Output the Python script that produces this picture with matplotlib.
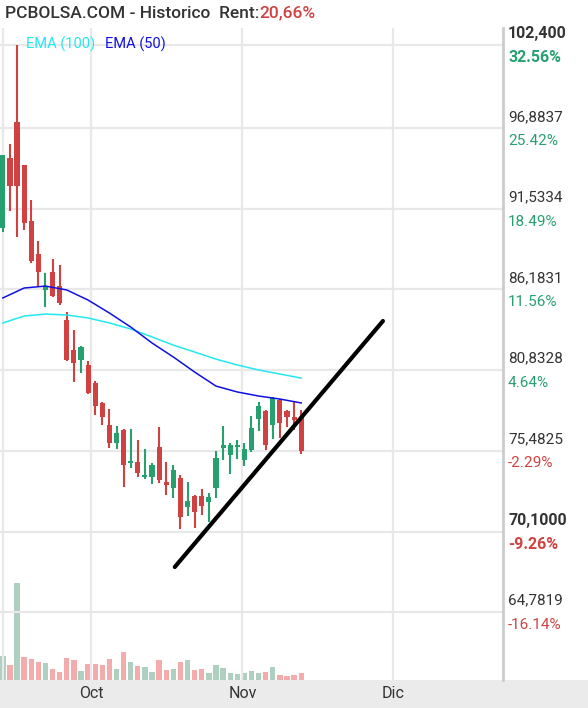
import numpy as np
import matplotlib.pyplot as plt

plt.rcParams['font.family'] = ['Roboto', 'DejaVu Sans']

# datos OHLC (43 sesiones)
apertura = [90.25, 94.90, 97.29, 94.43, 90.72, 88.53, 86.14, 87.33, 86.40, 84.15,
            82.15, 81.49, 81.16, 79.96, 78.64, 77.18, 75.98, 76.84, 74.65, 74.72,
            73.72, 73.72, 75.71, 73.39, 72.99, 73.66, 71.73, 72.46, 72.46, 72.06,
            72.99, 75.65, 75.18, 75.71, 74.85, 75.52, 77.57, 78.10, 77.18, 78.84,
            78.10, 77.71, 77.71]
cierre = [95.10, 93.04, 93.04, 90.58, 88.06, 87.33, 86.40, 85.74, 85.27, 81.49,
          81.29, 82.35, 79.30, 78.44, 77.71, 75.98, 76.64, 74.52, 74.79, 73.99,
          73.79, 74.52, 73.52, 73.19, 74.19, 71.07, 72.13, 71.40, 71.80, 72.40,
          74.99, 75.85, 75.85, 75.78, 75.58, 76.98, 78.44, 75.85, 78.97, 77.31,
          77.71, 77.51, 75.45]
maximo = [95.10, 95.83, 102.40, 94.43, 92.11, 89.39, 87.27, 88.19, 87.80, 84.68,
          83.48, 82.42, 81.42, 80.10, 78.70, 78.24, 77.11, 76.91, 76.91, 76.18,
          75.58, 74.65, 77.04, 74.72, 74.52, 73.86, 73.39, 72.53, 72.93, 72.66,
          75.45, 77.11, 75.98, 76.18, 75.98, 77.77, 78.70, 78.17, 79.04, 78.90,
          78.17, 78.70, 78.17]
minimo = [89.99, 91.38, 89.66, 90.12, 87.93, 86.40, 85.01, 85.67, 85.14, 81.42,
          80.03, 80.63, 79.23, 77.84, 77.18, 75.65, 75.58, 73.06, 74.32, 73.72,
          73.59, 73.26, 73.32, 72.53, 72.33, 70.27, 71.13, 70.34, 71.20, 70.74,
          72.33, 74.85, 73.92, 74.92, 74.45, 75.38, 76.78, 75.52, 76.25, 76.31,
          77.04, 76.84, 75.25]
volumen = [24, 15, 97, 23, 21, 18, 17, 11, 8, 22, 20, 9, 16, 16, 15, 21, 11, 28,
           18, 14, 13, 8, 20, 10, 11, 18, 20, 10, 11, 7, 15, 12, 7, 6, 7, 9, 7, 8,
           13, 5, 4, 5, 7]

ema_idx = [0, 3, 6, 9, 12, 15, 18, 21, 24, 27, 30, 33, 36, 39, 42]
ema50 = [85.61, 86.27, 86.40, 86.14, 85.47, 84.61, 83.68, 82.62, 81.69, 80.69,
         79.76, 79.37, 79.10, 78.90, 78.64]
ema100 = [83.95, 84.41, 84.54, 84.48, 84.28, 83.95, 83.55, 83.02, 82.48, 82.02,
          81.55, 81.16, 80.83, 80.56, 80.29]

tendencia_x = [24.2, 53.5]
tendencia_y = [67.75, 84.08]

niveles = [102.400, 96.8837, 91.5334, 86.1831, 80.8328, 75.4825, 70.1000, 64.7819]
etiquetas = ["102,400", "96,8837", "91,5334", "86,1831", "80,8328", "75,4825", "70,1000", "64,7819"]
porcentajes = ["32.56%", "25.42%", "18.49%", "11.56%", "4.64%", "-2.29%", "-9.26%", "-16.14%"]
meses = ["Oct", "Nov", "Dic"]
meses_pos = [12.4, 33.7, 54.9]

ROJO = '#d04242'
VERDE = '#27a06f'
GRIS = '#e8e8e8'

fig = plt.figure(figsize=(5.88, 7.08), dpi=100)
ax = fig.add_axes([0, 28 / 708, 503 / 588, 652 / 708])
ax.set_xlim(-0.4, 70.4)
ax.set_ylim(60.25, 103.53)

for y in niveles:
    ax.axhline(y, color=GRIS, lw=1.6, zorder=0)
for x in [0] + meses_pos:
    ax.axvline(x, color=GRIS, lw=1.6, zorder=0)

# volumen en eje gemelo
axv = ax.twinx()
axv.set_ylim(0, 652)
col_vol = []
for i in range(len(volumen)):
    sube = cierre[i] >= apertura[i] or i == 2
    col_vol.append('#afcfc0' if sube else '#f3abab')
axv.bar(range(len(volumen)), volumen, width=0.75, color=col_vol, zorder=1)
axv.axis('off')

ax.set_zorder(axv.get_zorder() + 1)
ax.patch.set_visible(False)

for i in range(len(apertura)):
    c = VERDE if cierre[i] >= apertura[i] else ROJO
    ax.vlines(i, minimo[i], maximo[i], color=c, lw=1.5, zorder=3)
    lo = min(apertura[i], cierre[i])
    alto = max(abs(cierre[i] - apertura[i]), 0.12)
    ax.bar(i, alto, bottom=lo, width=0.72, color=c, zorder=3)

ax.plot(ema_idx, ema100, color='#22e8f0', lw=1.1, zorder=4)
ax.plot(ema_idx, ema50, color='#1010e0', lw=1.1, zorder=4)
ax.plot(tendencia_x, tendencia_y, color='black', lw=3, solid_capstyle='round', zorder=5)

ax.text(26 / 503, 1 - 16 / 652, "EMA (100)", color='#22e8f0', fontsize=10.5, transform=ax.transAxes, va='center')
ax.text(105 / 503, 1 - 16 / 652, "EMA (50)", color='#1010e0', fontsize=10.5, transform=ax.transAxes, va='center')

for k, (y, e, p) in enumerate(zip(niveles, etiquetas, porcentajes)):
    negrita = k in (0, 6)
    ax.text(1.01, y + 0.75, e, color='#333333', fontsize=11.5 if negrita else 11,
            fontweight='bold' if negrita else 'normal', transform=ax.get_yaxis_transform(), va='center')
    ax.text(1.01, y - 0.85, p, color=VERDE if not p.startswith('-') else ROJO,
            fontsize=11.5 if negrita else 11, fontweight='bold' if negrita else 'normal',
            transform=ax.get_yaxis_transform(), va='center')

ax.set_xticks([])
ax.set_yticks([])
for s in ['top', 'left', 'bottom']:
    ax.spines[s].set_visible(False)
ax.spines['right'].set_color('#cccccc')
ax.spines['right'].set_linewidth(2)

# franja inferior con los meses
banda = fig.add_axes([0, 0, 1, 28 / 708])
banda.set_facecolor('#ebebeb')
banda.set_xlim(-0.4, 70.4 * 588 / 503)
banda.set_ylim(0, 1)
for x, m in zip(meses_pos, meses):
    banda.text(x, 0.5, m, ha='center', va='center', fontsize=11.5, color='#333333')
banda.set_xticks([])
banda.set_yticks([])
for s in banda.spines.values():
    s.set_visible(False)

t1 = fig.text(0.008, 1 - 13 / 708, "PCBOLSA.COM - Historico  Rent:", fontsize=12.5,
              fontweight='medium', color='#333333', va='center')
fig.canvas.draw()
bb = t1.get_window_extent()
fig.text(bb.x1 / fig.bbox.width, 1 - 13 / 708, "20,66%", fontsize=12.5,
         fontweight='medium', color=ROJO, va='center')

fig.savefig('out.png', dpi=100)
